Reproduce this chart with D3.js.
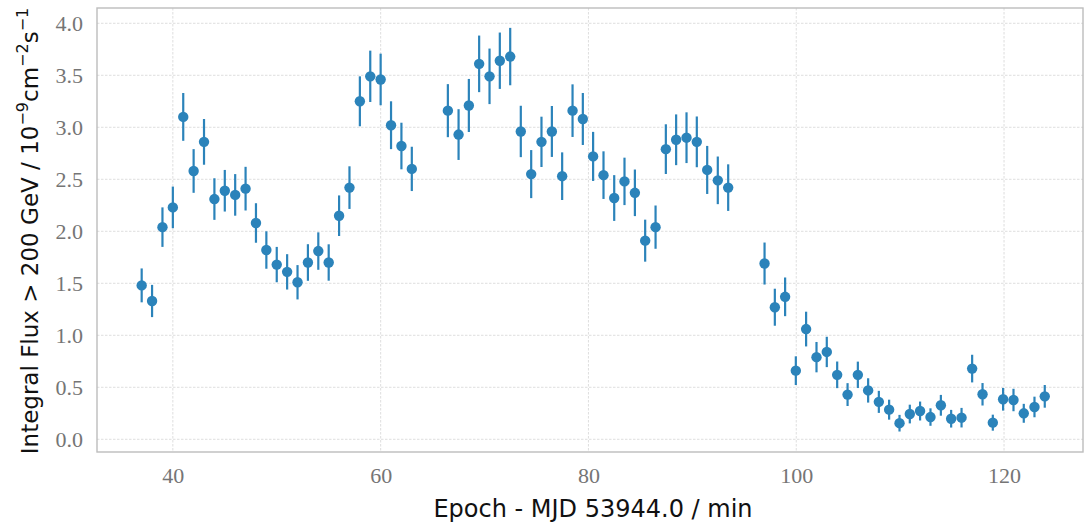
<!DOCTYPE html>
<html>
<head>
<meta charset="utf-8">
<script src="https://cdn.jsdelivr.net/npm/d3@7"></script>
<style>
  html, body { margin: 0; padding: 0; background: #fff; }
  svg { display: block; }
</style>
</head>
<body>
<svg id="chart" width="1084" height="524"></svg>
<script>
// Light-curve samples: epoch (minutes after MJD 53944.0), integral flux and 1-sigma error
const epochs = [
  37.0, 38.0, 39.0, 40.0, 41.0, 42.0, 43.0, 44.0, 45.0, 46.0,
  47.0, 48.0, 49.0, 50.0, 51.0, 52.0, 53.0, 54.0, 55.0, 56.0,
  57.0, 58.0, 59.0, 60.0, 61.0, 62.0, 63.0,
  66.47, 67.5, 68.49, 69.48, 70.48, 71.47, 72.47, 73.49, 74.49, 75.48,
  76.48, 77.47, 78.47, 79.46, 80.45, 81.45, 82.48, 83.47, 84.47, 85.46,
  86.46, 87.45, 88.44, 89.44, 90.43, 91.43, 92.45, 93.45,
  96.95, 97.94, 98.93, 99.96, 100.95, 101.95, 102.94, 103.94, 104.94, 105.93,
  106.92, 107.95, 108.94, 109.94, 110.93, 111.92, 112.92, 113.92, 114.91, 115.91,
  116.93, 117.93, 118.92, 119.91, 120.91, 121.9, 122.93, 123.92
];
const flux = [
  1.48, 1.33, 2.04, 2.23, 3.10, 2.58, 2.86, 2.31, 2.39, 2.35,
  2.41, 2.08, 1.82, 1.68, 1.61, 1.51, 1.70, 1.81, 1.70, 2.15,
  2.42, 3.25, 3.49, 3.46, 3.02, 2.82, 2.60,
  3.16, 2.93, 3.21, 3.61, 3.49, 3.64, 3.68, 2.96, 2.55, 2.86,
  2.96, 2.53, 3.16, 3.08, 2.72, 2.54, 2.32, 2.48, 2.37, 1.91,
  2.04, 2.79, 2.88, 2.90, 2.86, 2.59, 2.49, 2.42,
  1.69, 1.27, 1.37, 0.66, 1.06, 0.79, 0.84, 0.62, 0.43, 0.62,
  0.47, 0.36, 0.285, 0.155, 0.243, 0.272, 0.214, 0.327, 0.198, 0.208,
  0.68, 0.433, 0.16, 0.385, 0.378, 0.25, 0.311, 0.413
];
const fluxErr = [
  0.163, 0.155, 0.19, 0.20, 0.23, 0.21, 0.22, 0.20, 0.20, 0.20,
  0.21, 0.19, 0.18, 0.17, 0.17, 0.165, 0.176, 0.18, 0.175, 0.195,
  0.205, 0.24, 0.247, 0.248, 0.23, 0.224, 0.213,
  0.255, 0.244, 0.255, 0.272, 0.267, 0.271, 0.276, 0.247, 0.231, 0.242,
  0.245, 0.229, 0.253, 0.25, 0.236, 0.229, 0.22, 0.228, 0.224, 0.202,
  0.208, 0.239, 0.244, 0.244, 0.244, 0.231, 0.229, 0.224,
  0.202, 0.178, 0.186, 0.138, 0.167, 0.146, 0.146, 0.128, 0.11, 0.127,
  0.117, 0.106, 0.096, 0.08, 0.09, 0.091, 0.084, 0.1, 0.085, 0.094,
  0.133, 0.108, 0.077, 0.109, 0.108, 0.091, 0.099, 0.109
];
const xTicks = [40, 60, 80, 100, 120];
const yTicks = [0.0, 0.5, 1.0, 1.5, 2.0, 2.5, 3.0, 3.5, 4.0];

const svg = d3.select("#chart");
const margin = { left: 97, right: 1, top: 8, bottom: 72 };
const W = 1084, H = 524;
const iw = W - margin.left - margin.right;
const ih = H - margin.top - margin.bottom;

const x = d3.scaleLinear().domain([32.7, 127.6]).range([0, iw]);
const y = d3.scaleLinear().domain([-0.122, 4.147]).range([ih, 0]);

const g = svg.append("g").attr("transform", `translate(${margin.left},${margin.top})`);

// Dashed grid
g.append("g").selectAll("line").data(xTicks).join("line")
  .attr("x1", d => x(d)).attr("x2", d => x(d))
  .attr("y1", 0).attr("y2", ih)
  .attr("stroke", "#d6d6d6").attr("stroke-width", 0.8).attr("stroke-dasharray", "2.5,1.5");
g.append("g").selectAll("line").data(yTicks).join("line")
  .attr("y1", d => y(d)).attr("y2", d => y(d))
  .attr("x1", 0).attr("x2", iw)
  .attr("stroke", "#d6d6d6").attr("stroke-width", 0.8).attr("stroke-dasharray", "2.5,1.5");

// Axes (labels only, no tick marks)
const xAxis = d3.axisBottom(x).tickValues(xTicks).tickFormat(d3.format("d")).tickSize(0);
const yAxis = d3.axisLeft(y).tickValues(yTicks).tickFormat(d3.format(".1f")).tickSize(0).tickPadding(14);

const gx = g.append("g").attr("transform", `translate(0,${ih})`).call(xAxis);
const gy = g.append("g").call(yAxis);
[gx, gy].forEach(a => {
  a.select(".domain").remove();
  a.selectAll("text")
    .attr("fill", "#757575")
    .style("font-family", "'Liberation Serif', 'DejaVu Serif', serif")
    .style("font-size", "22px");
});
gx.selectAll("text").attr("y", 30.5).attr("dy", null);
gy.selectAll("text").attr("dy", "0.34em");

// Frame
g.append("rect").attr("x", 0).attr("y", 0).attr("width", iw).attr("height", ih)
  .attr("fill", "none").attr("stroke", "#bdbdbd").attr("stroke-width", 1.4);

// Data: error bars then markers
const pts = epochs.map((e, i) => ({ e, f: flux[i], s: fluxErr[i] }));
const col = "#2b83ba";
g.append("g").selectAll("line").data(pts).join("line")
  .attr("x1", d => x(d.e)).attr("x2", d => x(d.e))
  .attr("y1", d => y(d.f - d.s)).attr("y2", d => y(d.f + d.s))
  .attr("stroke", col).attr("stroke-width", 2.2);
g.append("g").selectAll("circle").data(pts).join("circle")
  .attr("cx", d => x(d.e)).attr("cy", d => y(d.f)).attr("r", 5.2)
  .attr("fill", col);

// Axis titles
const labelFont = "'DejaVu Sans', 'Liberation Sans', sans-serif";
svg.append("text")
  .attr("x", 593).attr("y", 517)
  .attr("text-anchor", "middle")
  .style("font-family", labelFont).style("font-size", "24px").attr("fill", "#111")
  .text("Epoch - MJD 53944.0 / min");

const yl = svg.append("text")
  .attr("transform", `translate(38,${margin.top + ih / 2 + 1}) rotate(-90)`)
  .attr("text-anchor", "middle")
  .style("font-family", labelFont).style("font-size", "23px").attr("fill", "#111");
yl.append("tspan").text("Integral Flux > 200 GeV / 10");
yl.append("tspan").attr("dy", -10).style("font-size", "16px").text("\u22129");
yl.append("tspan").attr("dy", 10).text("cm");
yl.append("tspan").attr("dy", -10).style("font-size", "16px").text("\u22122");
yl.append("tspan").attr("dy", 10).text("s");
yl.append("tspan").attr("dy", -10).style("font-size", "16px").text("\u22121");
</script>
</body>
</html>
